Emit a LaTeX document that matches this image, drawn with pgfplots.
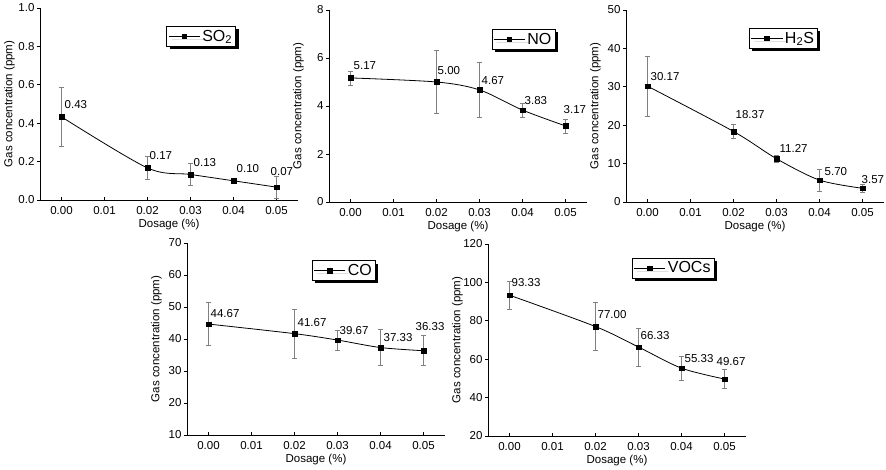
\documentclass[border=0pt]{standalone}
\usepackage{fontspec}
\setmainfont{Liberation Sans}
\usepackage{pgfplots}
\pgfplotsset{compat=1.18}
\usepackage{pgfplotstable}
\usetikzlibrary{shadows}

\pgfplotstableread{
x y e lab dx dy
0.00 0.433 0.152 0.43 3 8.5
0.02 0.167 0.058 0.17 2 8
0.03 0.133 0.059 0.13 3 8
0.04 0.100 0.004 0.10 3 8
0.05 0.067 0.059 0.07 -6 12
}\tabSO
\pgfplotstableread{
x y e lab dx dy
0.00 5.17 0.29 5.17 3 8
0.02 5.00 1.30 5.00 1 7
0.03 4.67 1.15 4.67 2 5.5
0.04 3.83 0.29 3.83 2 6
0.05 3.17 0.29 3.17 -2 12
}\tabNO
\pgfplotstableread{
x y e lab dx dy
0.00 30.17 7.8 30.17 3 6
0.02 18.37 1.9 18.37 2 13
0.03 11.27 1.0 11.27 3 6
0.04 5.70 2.8 5.70 5 5
0.05 3.57 1.0 3.57 -1 5
}\tabHS
\pgfplotstableread{
x y e lab dx dy
0.00 44.67 6.7 44.67 2 7
0.02 41.67 7.6 41.67 3 7
0.03 39.67 3.2 39.67 2 6
0.04 37.33 5.7 37.33 3 6
0.05 36.33 4.7 36.33 -8 20
}\tabCO
\pgfplotstableread{
x y e lab dx dy
0.00 93.33 7.2 93.33 2 9
0.02 77.00 12.6 77.00 2 8
0.03 66.33 9.9 66.33 2 8
0.04 55.33 6.1 55.33 3 6
0.05 49.67 5.0 49.67 -8 14
}\tabVO

\pgfplotsset{
 gas/.style={
  scale only axis, width=258pt, height=192pt,
  anchor=south west,
  xmin=-0.005, xmax=0.055,
  scaled x ticks=false, scaled y ticks=false,
  axis x line*=bottom, axis y line*=left,
  xtick={0,0.01,0.02,0.03,0.04,0.05},
  xticklabels={0.00,0.01,0.02,0.03,0.04,0.05},
  tick align=inside, major tick length=3pt,
  ytick style={xshift=-3pt},
  tick style={black, line width=0.6pt},
  axis line style={line width=0.8pt},
  /pgf/number format/assume math mode=true,
  tick label style={font=\fontsize{11.5}{13}\selectfont},
  xticklabel style={yshift=-3pt},
  yticklabel style={xshift=-2pt},
  xlabel={Dosage (\%)},
  ylabel={Gas concentration (ppm)},
  every axis x label/.style={at={([yshift=-19pt]axis description cs:0.5,0)}, anchor=north, inner sep=0pt, font=\fontsize{11.5}{13}\selectfont},
  every axis y label/.style={at={([xshift=-25pt]axis description cs:0,0.5)}, anchor=south, rotate=90, inner sep=0pt, font=\fontsize{11.5}{13}\selectfont},
  clip=false,
  legend cell align=left,
  legend style={draw=black, line width=0.6pt, fill=white,
     font=\fontsize{16}{18}\selectfont, inner sep=1.5pt, anchor=north west,
     drop shadow={shadow xshift=3pt, shadow yshift=-3pt, fill=black, opacity=1, draw=none}},
  legend image code/.code={\draw[mark repeat=2, mark phase=2] plot coordinates {(0cm,0cm) (0.55cm,0cm) (1.1cm,0cm)};},
 },
 gasplot/.style={black, line width=0.8pt, smooth, mark=square*, mark size=2.3pt,
   mark options={solid, fill=black, line width=0.4pt},
   nodes near coords, point meta=explicit symbolic,
   visualization depends on={\thisrow{dx} \as \dx},
   visualization depends on={\thisrow{dy} \as \dy},
   every node near coord/.append style={anchor=base west, inner sep=0pt, xshift=\dx pt, yshift=\dy pt, font=\fontsize{11.5}{13}\selectfont, black},
   error bars/y dir=both, error bars/y explicit,
   error bars/error bar style={gray, line width=0.6pt},
   error bars/error mark options={gray, rotate=90, mark size=2.5pt, line width=0.6pt},
 },
}

\begin{document}
\begin{tikzpicture}
\useasboundingbox (0pt,0pt) rectangle (886pt,470pt);

\begin{axis}[gas, at={(40pt,270pt)}, ymin=0, ymax=1, ytick={0,0.2,0.4,0.6,0.8,1.0},
  yticklabel style={/pgf/number format/.cd, fixed, fixed zerofill, precision=1},
  legend style={at={(rel axis cs:0.49,0.906)}}]
\addplot[gasplot] table[x=x, y=y, y error=e, meta=lab] {\tabSO};
\addlegendentry{SO\textsubscript{2}}
\end{axis}

\begin{axis}[gas, at={(329pt,268pt)}, ymin=0, ymax=8, ytick={0,2,4,6,8},
  legend style={at={(rel axis cs:0.63,0.90)}}]
\addplot[gasplot] table[x=x, y=y, y error=e, meta=lab] {\tabNO};
\addlegendentry{NO}
\end{axis}

\begin{axis}[gas, at={(626pt,268pt)}, ymin=0, ymax=50, ytick={0,10,20,30,40,50},
  legend style={at={(rel axis cs:0.477,0.906)}}]
\addplot[gasplot] table[x=x, y=y, y error=e, meta=lab] {\tabHS};
\addlegendentry{H\textsubscript{2}S}
\end{axis}

\begin{axis}[gas, at={(187pt,35pt)}, ymin=10, ymax=70, ytick={10,20,30,40,50,60,70},
  legend style={at={(rel axis cs:0.484,0.91)}}]
\addplot[gasplot] table[x=x, y=y, y error=e, meta=lab] {\tabCO};
\addlegendentry{CO}
\end{axis}

\begin{axis}[gas, at={(488pt,34pt)}, ymin=20, ymax=120, ytick={20,40,60,80,100,120},
  legend style={at={(rel axis cs:0.558,0.927)}}]
\addplot[gasplot] table[x=x, y=y, y error=e, meta=lab] {\tabVO};
\addlegendentry{VOCs}
\end{axis}
\end{tikzpicture}
\end{document}
